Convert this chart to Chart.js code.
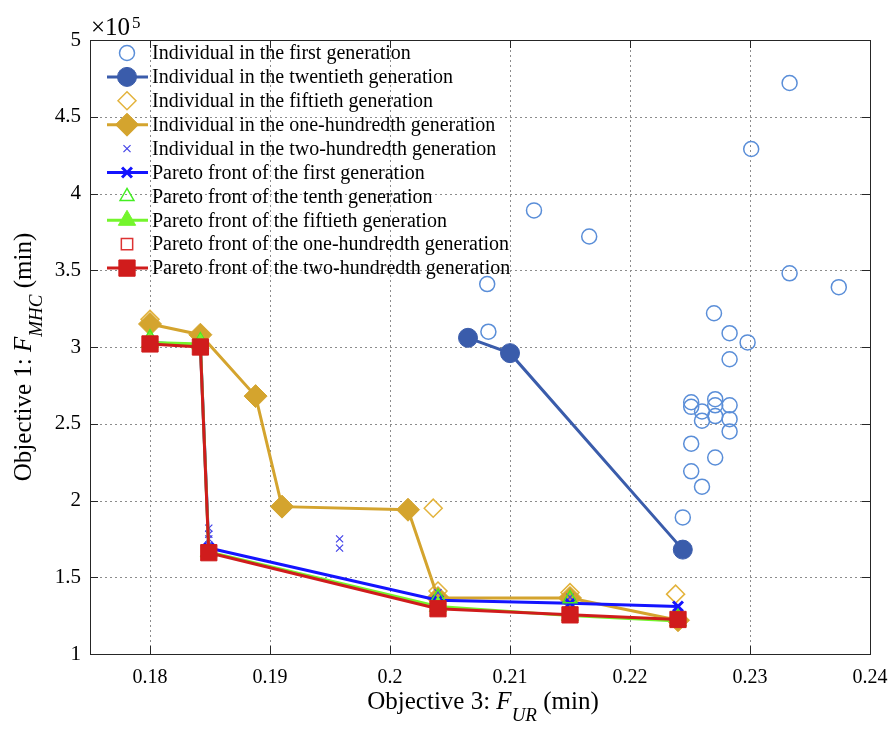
<!DOCTYPE html>
<html>
<head>
<meta charset="utf-8">
<script src="https://cdn.jsdelivr.net/npm/chart.js@4.4.0/dist/chart.umd.min.js"></script>
<style>
  body { margin: 0; background: #fff; }
  #wrap { width: 888px; height: 729px; }
</style>
</head>
<body>
<div id="wrap"><canvas id="paretoChart" width="888" height="729"></canvas></div>
<script>
// --- Data (y in units of 1e5 min) ---
const xTicks = [0.18, 0.19, 0.2, 0.21, 0.22, 0.23, 0.24];
const yTicks = [1, 1.5, 2, 2.5, 3, 3.5, 4, 4.5, 5];

const gen1X = [0.2333, 0.2301, 0.2120, 0.2166, 0.2333, 0.2374, 0.2081, 0.2082, 0.2270, 0.2283,
  0.2298, 0.2283, 0.2251, 0.2251, 0.2260, 0.2271, 0.2271, 0.2271, 0.2283, 0.2260, 0.2283,
  0.2283, 0.2251, 0.2271, 0.2251, 0.2260, 0.2244];
const gen1Y = [4.72, 4.29, 3.89, 3.72, 3.48, 3.39, 3.41, 3.10, 3.22, 3.09, 3.03, 2.92, 2.64,
  2.61, 2.58, 2.66, 2.62, 2.55, 2.62, 2.52, 2.53, 2.45, 2.37, 2.28, 2.19, 2.09, 1.89];

const gen20X = [0.2065, 0.2100, 0.2244];
const gen20Y = [3.06, 2.96, 1.68];

const gen50X = [0.1800, 0.1800, 0.1842, 0.2036, 0.2040, 0.2150, 0.2238];
const gen50Y = [3.18, 3.15, 3.08, 1.95, 1.41, 1.40, 1.39];

const gen100X = [0.1800, 0.1842, 0.1888, 0.1910, 0.2015, 0.2040, 0.2150, 0.2240];
const gen100Y = [3.15, 3.08, 2.68, 1.96, 1.94, 1.365, 1.365, 1.22];

const gen200X = [0.1849, 0.1849, 0.1849, 0.1849, 0.1958, 0.1958, 0.2040, 0.2150, 0.2240];
const gen200Y = [1.82, 1.78, 1.75, 1.71, 1.75, 1.69, 1.40, 1.37, 1.31];

const frontX = [0.1800, 0.1842, 0.1849, 0.2040, 0.2150, 0.2240];
const front1Y = [3.03, 3.01, 1.69, 1.35, 1.33, 1.31];
const front10Y = [3.06, 3.04, 1.67, 1.37, 1.36, 1.24];
const front50Y = [3.03, 3.02, 1.665, 1.31, 1.25, 1.215];
const front100Y = [3.02, 3.00, 1.66, 1.30, 1.26, 1.22];
const front200Y = [3.02, 3.00, 1.66, 1.295, 1.255, 1.225];

const seriesLabels = [
  "Individual in the first generation",
  "Individual in the twentieth generation",
  "Individual in the fiftieth generation",
  "Individual in the one-hundredth generation",
  "Individual in the two-hundredth generation",
  "Pareto front of the first generation",
  "Pareto front of the tenth generation",
  "Pareto front of the fiftieth generation",
  "Pareto front of the one-hundredth generation",
  "Pareto front of the two-hundredth generation",
];

const SERIF = "'Liberation Serif', 'Times New Roman', serif";
const NONE = "rgba(0,0,0,0)";

function pts(xs, ys) {
  return xs.map((x, i) => ({ x: x, y: ys[i] }));
}

// style helper: marker + optional line
function series(i, xs, ys, o) {
  return {
    label: seriesLabels[i],
    data: pts(xs, ys),
    showLine: !!o.line,
    borderColor: o.color,
    borderWidth: o.line ? 3 : 0,
    backgroundColor: o.fill ? o.color : NONE,
    pointStyle: o.style,
    pointRadius: o.r,
    pointHoverRadius: o.r,
    pointBorderColor: o.color,
    pointBackgroundColor: o.fill ? o.color : NONE,
    pointBorderWidth: o.bw,
    tension: 0,
    order: 20 - i, // later series drawn on top, like MATLAB
  };
}

const datasets = [
  series(0, gen1X, gen1Y, { color: "#5a8ed8", style: "circle", r: 7.5, bw: 1.5 }),
  series(1, gen20X, gen20Y, { color: "#3a5cab", style: "circle", r: 9.5, bw: 1, fill: true, line: true }),
  series(2, gen50X, gen50Y, { color: "#e3b33c", style: "rectRot", r: 9, bw: 1.5 }),
  series(3, gen100X, gen100Y, { color: "#d4a42e", style: "rectRot", r: 11.5, bw: 1, fill: true, line: true }),
  series(4, gen200X, gen200Y, { color: "#4343e8", style: "crossRot", r: 5, bw: 1.2 }),
  series(5, frontX, front1Y, { color: "#1414ff", style: "crossRot", r: 7, bw: 3, line: true }),
  series(6, frontX, front10Y, { color: "#44ee22", style: "triangle", r: 8, bw: 1.5 }),
  series(7, frontX, front50Y, { color: "#74f52c", style: "triangle", r: 10, bw: 1, fill: true, line: true }),
  series(8, frontX, front100Y, { color: "#dd3333", style: "rect", r: 8, bw: 1.5 }),
  series(9, frontX, front200Y, { color: "#d01c1c", style: "rect", r: 11.5, bw: 1, fill: true, line: true }),
];

// grid, box, inside ticks, axis titles and legend, MATLAB style
const matlabFrame = {
  id: "matlabFrame",
  beforeDatasetsDraw(chart) {
    const { ctx, chartArea: a, scales } = chart;
    ctx.save();
    ctx.lineWidth = 1;
    ctx.strokeStyle = "#8c8c8c";
    ctx.setLineDash([2, 3]);
    xTicks.forEach((v) => {
      const px = Math.round(scales.x.getPixelForValue(v)) + 0.5;
      if (px > a.right - 1) return;
      ctx.beginPath(); ctx.moveTo(px, a.top); ctx.lineTo(px, a.bottom); ctx.stroke();
    });
    yTicks.forEach((v) => {
      const py = Math.round(scales.y.getPixelForValue(v)) + 0.5;
      if (py < a.top + 1 || py > a.bottom - 1) return;
      ctx.beginPath(); ctx.moveTo(a.left, py); ctx.lineTo(a.right, py); ctx.stroke();
    });
    ctx.restore();
  },
  afterDatasetsDraw(chart) {
    const { ctx, chartArea: a, scales } = chart;
    ctx.save();
    // box
    ctx.strokeStyle = "#262626";
    ctx.lineWidth = 1;
    ctx.strokeRect(Math.round(a.left) + 0.5, Math.round(a.top) + 0.5,
      Math.round(a.right - a.left), Math.round(a.bottom - a.top));
    // inside ticks
    const tl = 8;
    ctx.beginPath();
    xTicks.forEach((v) => {
      const px = Math.round(scales.x.getPixelForValue(v)) + 0.5;
      ctx.moveTo(px, a.bottom); ctx.lineTo(px, a.bottom - tl);
      ctx.moveTo(px, a.top); ctx.lineTo(px, a.top + tl);
    });
    yTicks.forEach((v) => {
      const py = Math.round(scales.y.getPixelForValue(v)) + 0.5;
      ctx.moveTo(a.left, py); ctx.lineTo(a.left + tl, py);
      ctx.moveTo(a.right, py); ctx.lineTo(a.right - tl, py);
    });
    ctx.stroke();

    // exponent label
    ctx.fillStyle = "#000";
    ctx.textBaseline = "alphabetic";
    ctx.textAlign = "left";
    ctx.font = "25px " + SERIF;
    ctx.fillText("\u00d710", a.left + 1, a.top - 5);
    const w10 = ctx.measureText("\u00d710").width;
    ctx.font = "17px " + SERIF;
    ctx.fillText("5", a.left + 3 + w10, a.top - 12);

    // axis titles with italic subscripts
    function title(parts, cx, cy, rot) {
      ctx.save();
      ctx.translate(cx, cy);
      ctx.rotate(rot);
      let total = 0;
      parts.forEach((p) => { ctx.font = p.font; total += ctx.measureText(p.t).width; });
      let x = -total / 2;
      parts.forEach((p) => {
        ctx.font = p.font;
        ctx.fillText(p.t, x, p.dy || 0);
        x += ctx.measureText(p.t).width;
      });
      ctx.restore();
    }
    title([
      { t: "Objective 3: ", font: "25px " + SERIF },
      { t: "F", font: "italic 25px " + SERIF },
      { t: "UR", font: "italic 19px " + SERIF, dy: 12 },
      { t: " (min)", font: "25px " + SERIF },
    ], (a.left + a.right) / 2 + 3, 709, 0);
    title([
      { t: "Objective 1: ", font: "25px " + SERIF },
      { t: "F", font: "italic 25px " + SERIF },
      { t: "MHC", font: "italic 19px " + SERIF, dy: 11 },
      { t: " (min)", font: "25px " + SERIF },
    ], 31, (a.top + a.bottom) / 2 + 10, -Math.PI / 2);

    // legend, top-left inside the axes, no box
    const rowH = 23.9;
    const y0 = a.top + 13;
    const mx = 127;
    chart.data.datasets.forEach((ds, i) => {
      const y = y0 + i * rowH;
      if (ds.showLine) {
        ctx.strokeStyle = ds.borderColor;
        ctx.lineWidth = ds.borderWidth;
        ctx.beginPath(); ctx.moveTo(mx - 20, y); ctx.lineTo(mx + 21, y); ctx.stroke();
      }
      ctx.strokeStyle = ds.pointBorderColor;
      ctx.fillStyle = ds.pointBackgroundColor;
      ctx.lineWidth = ds.pointBorderWidth;
      Chart.helpers.drawPoint(ctx, {
        pointStyle: ds.pointStyle, rotation: 0,
        radius: ds.pointRadius, borderWidth: ds.pointBorderWidth,
      }, mx, y);
      ctx.fillStyle = "#000";
      ctx.font = "20px " + SERIF;
      ctx.textBaseline = "middle";
      ctx.fillText(ds.label, mx + 25, y + 1);
    });
    ctx.restore();
  },
};

new Chart(document.getElementById("paretoChart"), {
  type: "scatter",
  data: { datasets: datasets },
  options: {
    responsive: false,
    animation: false,
    layout: { padding: { top: 40, right: 0, left: 0, bottom: 0 } },
    plugins: { legend: { display: false }, tooltip: { enabled: false } },
    scales: {
      x: {
        type: "linear",
        min: 0.175,
        max: 0.24,
        afterBuildTicks: (s) => { s.ticks = xTicks.map((v) => ({ value: v })); },
        afterFit: (s) => { s.height = 75; s.paddingRight = 18; },
        grid: { display: false, drawTicks: false },
        border: { display: false },
        ticks: {
          color: "#000",
          padding: 12,
          maxRotation: 0,
          font: { family: SERIF, size: 20 },
          callback: (v) => String(+v.toFixed(2)),
        },
      },
      y: {
        type: "linear",
        min: 1,
        max: 5,
        afterBuildTicks: (s) => { s.ticks = yTicks.map((v) => ({ value: v })); },
        afterFit: (s) => { s.width = 90; },
        grid: { display: false, drawTicks: false },
        border: { display: false },
        ticks: {
          color: "#000",
          padding: 9,
          font: { family: SERIF, size: 21 },
          callback: (v) => String(v),
        },
      },
    },
  },
  plugins: [matlabFrame],
});
</script>
</body>
</html>
